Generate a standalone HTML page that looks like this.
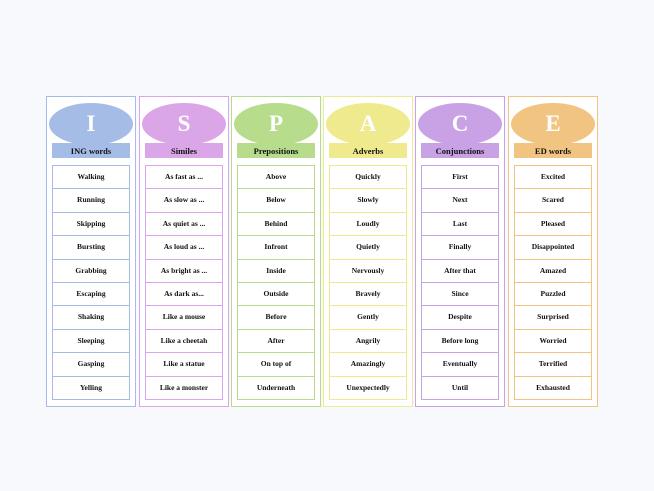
<!DOCTYPE html><html><head><style>
body{margin:0;width:654px;height:491px;background:#f8f9fd;position:relative;overflow:hidden;font-family:"Liberation Serif",serif}
.card{position:absolute;top:96px;width:88px;height:309px;background:#fff;border:1.5px solid}
.ov{position:absolute;left:2px;top:6px;width:84px;height:42px;border-radius:50%;color:#fff;font-weight:bold;font-size:23px;text-align:center;line-height:42px}
.band{position:absolute;left:5px;top:46px;width:78px;height:15px;font-size:8.5px;font-weight:bold;text-align:center;line-height:16px;color:#111}
.cells{position:absolute;left:5px;top:68px;width:78px}
.c{height:22.4px;border:1px solid;border-bottom:none;font-size:7.5px;font-weight:bold;text-align:center;line-height:22.4px;color:#111}
.c:last-child{border-bottom:1px solid}
</style></head><body>
<script>
const d=[["I","ING words","#a5bde6",["Walking","Running","Skipping","Bursting","Grabbing","Escaping","Shaking","Sleeping","Gasping","Yelling"],46],
["S","Similes","#daa6e8",["As fast as ...","As slow as ...","As quiet as ...","As loud as ...","As bright as ...","As dark as...","Like a mouse","Like a cheetah","Like a statue","Like a monster"],139],
["P","Prepositions","#b6dc8c",["Above","Below","Behind","Infront","Inside","Outside","Before","After","On top of","Underneath"],231],
["A","Adverbs","#f0ea8e",["Quickly","Slowly","Loudly","Quietly","Nervously","Bravely","Gently","Angrily","Amazingly","Unexpectedly"],323],
["C","Conjunctions","#c9a2e6",["First","Next","Last","Finally","After that","Since","Despite","Before long","Eventually","Until"],415],
["E","ED words","#f2c482",["Excited","Scared","Pleased","Disappointed","Amazed","Puzzled","Surprised","Worried","Terrified","Exhausted"],508]];
let h="";
for(const [l,t,c,w,x] of d){
h+=`<div class="card" style="left:${x}px;border-color:${c}"><div class="ov" style="background:${c}">${l}</div><div class="band" style="background:${c}">${t}</div><div class="cells">${w.map(s=>`<div class="c" style="border-color:${c}">${s}</div>`).join("")}</div></div>`;}
document.write(h);
</script>
</body></html>
